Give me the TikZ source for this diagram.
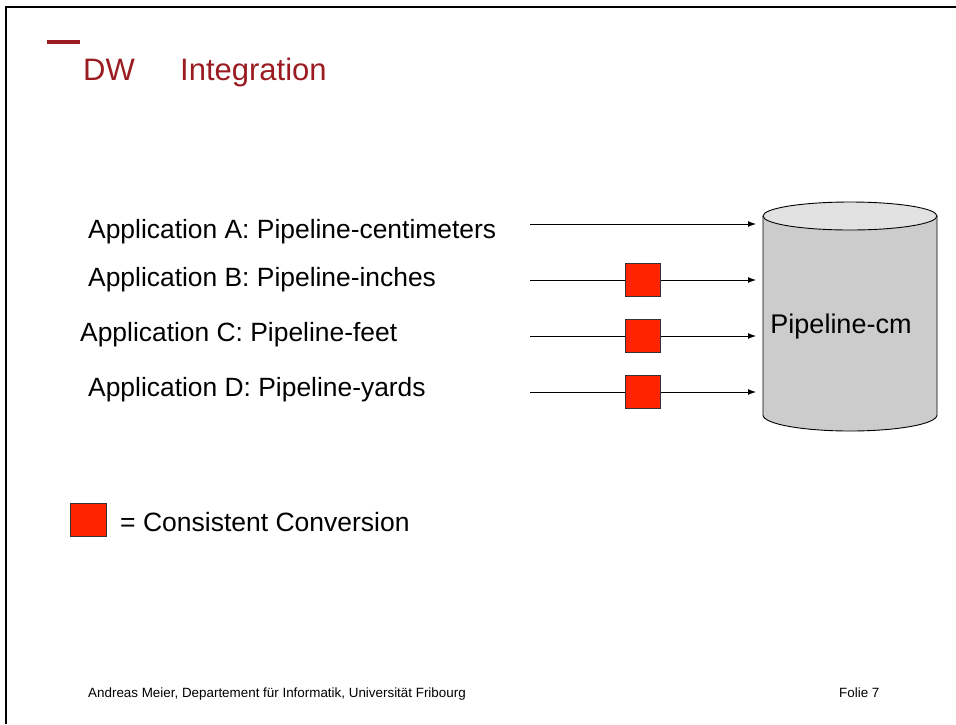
\documentclass[tikz,border=0pt]{standalone}
\usepackage{fontspec}
\setmainfont{Liberation Sans}
\usetikzlibrary{arrows.meta}

\begin{document}
\begin{tikzpicture}[x=1pt,y=-1pt]
\definecolor{titlered}{RGB}{155,28,32}
\definecolor{convred}{RGB}{255,36,0}
\definecolor{dbgray}{RGB}{204,204,204}
\definecolor{dblight}{RGB}{226,226,226}
\tikzset{
  label/.style={anchor=base west, inner sep=0pt, font=\fontsize{26.4}{28}\selectfont},
  conv/.style={draw=black!80, fill=convred, minimum width=35pt, minimum height=33pt, inner sep=0pt},
  feed/.style={draw, line width=0.9pt, -{Latex[length=8pt,width=6pt]}}
}
\useasboundingbox (0,0) rectangle (956,724);

% frame
\path[draw,line width=2.5pt] (6,724) -- (6,7) -- (956,7);

% title
\path[draw=titlered,line width=4pt] (47,42) -- (80,42);
\node[anchor=base west, inner sep=0pt, text=titlered, font=\fontsize{31}{34}\selectfont] (dw) at (83,80) {DW};
\node[anchor=base west, inner sep=0pt, text=titlered, font=\fontsize{31}{34}\selectfont] (integ) at (180,80) {Integration};

% applications
\node[label] (appA) at (88,238) {Application A: Pipeline-centimeters};
\node[label] (appB) at (88,286) {Application B: Pipeline-inches};
\node[label] (appC) at (80,341) {Application C: Pipeline-feet};
\node[label] (appD) at (88,396) {Application D: Pipeline-yards};

% data warehouse
\path[draw,fill=dbgray,line width=0.9pt] (763,216) -- (763,415) arc[start angle=180,end angle=0,x radius=87,y radius=16] -- (937,216);
\path[draw,fill=dblight,line width=0.9pt] (850,216) ellipse[x radius=87,y radius=14];
\node[anchor=base, inner sep=0pt, font=\fontsize{27}{29}\selectfont] (db) at (841,333) {Pipeline-cm};

% feeds
\coordinate (sA) at (530,224);
\coordinate (eA) at (756,224);
\coordinate (sB) at (530,280);
\coordinate (eB) at (756,280);
\coordinate (sC) at (530,336);
\coordinate (eC) at (756,336);
\coordinate (sD) at (530,392);
\coordinate (eD) at (756,392);
\path[feed] (sA) -- (eA);
\path[feed] (sB) -- (eB);
\path[feed] (sC) -- (eC);
\path[feed] (sD) -- (eD);
\node[conv] (cB) at (643,280) {};
\node[conv] (cC) at (643,336) {};
\node[conv] (cD) at (643,392) {};

% legend
\node[conv, minimum width=36pt, minimum height=33pt] (key) at (88,520) {};
\node[anchor=base west, inner sep=0pt, font=\fontsize{26.5}{28}\selectfont] (keytext) at (120,531) {= Consistent Conversion};

% footer
\node[anchor=base west, inner sep=0pt, font=\fontsize{13.4}{15}\selectfont] (author) at (88,697) {Andreas Meier, Departement für Informatik, Universität Fribourg};
\node[anchor=base west, inner sep=0pt, font=\fontsize{13.4}{15}\selectfont] (folie) at (839,697) {Folie 7};
\end{tikzpicture}
\end{document}
